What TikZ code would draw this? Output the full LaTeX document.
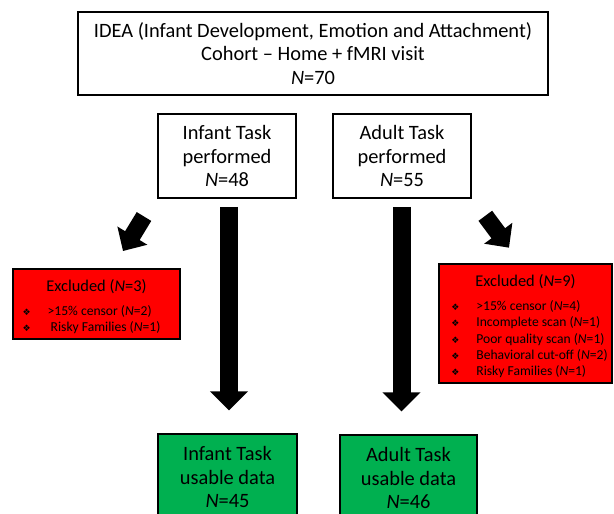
\documentclass[tikz,border=0pt]{standalone}
\usepackage{fontspec}
\setmainfont{Carlito}
\newfontfamily\symfont{DejaVu Sans}
\usetikzlibrary{arrows.meta}
\definecolor{exred}{HTML}{FF0000}
\definecolor{usegreen}{HTML}{00B050}
\newcommand{\bul}{{\symfont\fontsize{9}{9}\selectfont ❖}}
\newcommand{\extitle}[1]{\multicolumn{2}{c}{\rule{0pt}{20pt}\fontsize{16.4}{18}\selectfont Excluded (\textit{N}=#1)}}

\begin{document}
\begin{tikzpicture}[x=1pt, y=-1pt,
    box/.style={draw, line width=1.6pt, align=center, inner sep=0pt,
      font=\fontsize{20.4}{23.5}\selectfont},
    exbox/.style={draw, fill=exred, line width=1.3pt, inner sep=0pt,
      font=\fontsize{13.6}{16.3}\selectfont},
    usebox/.style={box, fill=usegreen, line width=1.3pt},
    bigarrow/.style={line width=18pt, -{Triangle[width=37pt,length=19pt]}},
    tiltarrow/.style={line width=17pt, -{Triangle[width=34pt,length=18pt]}}]
  \useasboundingbox (0,0) rectangle (614,514);
  % cohort and tasks
  \node[box, minimum width=470pt, minimum height=83pt] (idea) at (313,53.5)
    {IDEA (Infant Development, Emotion and Attachment)\\ Cohort – Home + fMRI visit\\ \textit{N}=70};
  \node[box, minimum width=138pt, minimum height=84pt] (infant) at (227,156)
    {Infant Task\\ performed\\ \textit{N}=48};
  \node[box, minimum width=138pt, minimum height=84pt] (adult) at (402,156)
    {Adult Task\\ performed\\ \textit{N}=55};
  % excluded
  \node[exbox, minimum width=167pt, minimum height=70pt] (exinfant) at (96.5,304)
    {\begin{tabular}{@{}c@{\hspace{17pt}}l@{\hspace{10pt}}}
      \extitle{3}\\[8pt]
      \bul & >15\% censor (\textit{N}=2)\\
      \bul & \ Risky Families (\textit{N}=1)
    \end{tabular}};
  \node[exbox, minimum width=173pt, minimum height=119pt] (exadult) at (525.5,323.5)
    {\begin{tabular}{@{\hspace*{8pt}}c@{\hspace{17pt}}l@{}}
      \extitle{9}\\[8pt]
      \bul & >15\% censor (\textit{N}=4)\\
      \bul & Incomplete scan (\textit{N}=1)\\
      \bul & Poor quality scan (\textit{N}=1)\\
      \bul & Behavioral cut-off (\textit{N}=2)\\
      \bul & Risky Families (\textit{N}=1)
    \end{tabular}};
  % usable data
  \node[usebox, minimum width=139pt, minimum height=86pt] (infantuse) at (227.5,477)
    {Infant Task\\ usable data\\ \textit{N}=45};
  \node[usebox, minimum width=137pt, minimum height=86pt] (adultuse) at (408.5,478)
    {Adult Task\\ usable data\\ \textit{N}=46};
  % arrows
  \coordinate (ibot) at (infant.south |- infantuse.north);
  \coordinate (abot) at (adult.south |- adultuse.north);
  \draw[bigarrow] ([xshift=2pt,yshift=-8pt]infant.south) -- ([xshift=2pt,yshift=23pt]ibot);
  \draw[bigarrow] ([xshift=-0.5pt,yshift=-8pt]adult.south) -- ([xshift=-0.5pt,yshift=23pt]abot);
  \coordinate (ltail) at (144,216.5);
  \coordinate (ltip) at (123,251);
  \coordinate (rtail) at (485.3,215.8);
  \coordinate (rtip) at (509,247.7);
  \draw[tiltarrow] (ltail) -- (ltip);
  \draw[tiltarrow] (rtail) -- (rtip);
\end{tikzpicture}
\end{document}
